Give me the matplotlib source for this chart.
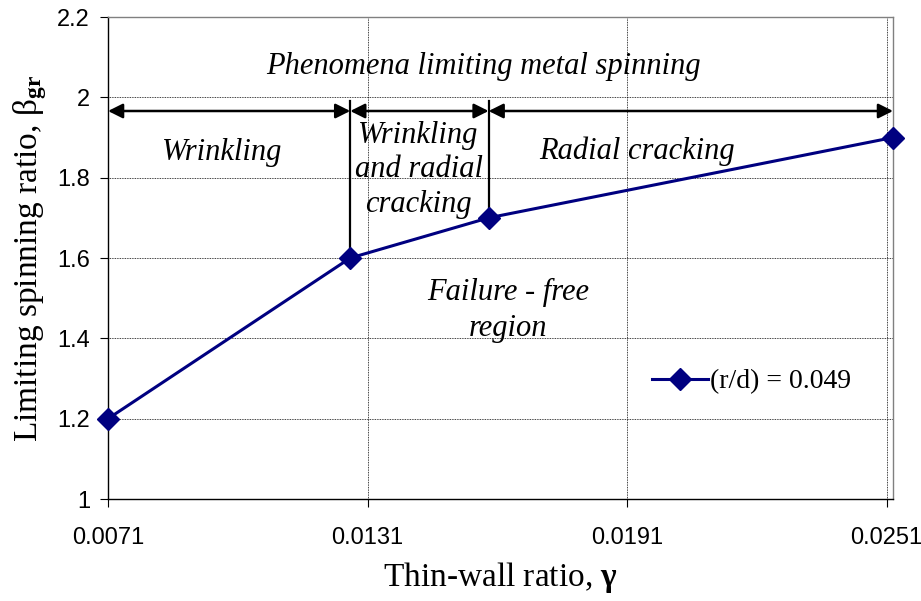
import matplotlib
matplotlib.use("Agg")
import matplotlib.pyplot as plt

plt.rcParams["mathtext.fontset"] = "custom"
plt.rcParams["mathtext.rm"] = "Liberation Serif"
plt.rcParams["mathtext.it"] = "Liberation Serif:italic"
plt.rcParams["mathtext.bf"] = "Liberation Serif:bold"

# data
gamma = [0.0071, 0.0127, 0.0159, 0.02525]
beta = [1.2, 1.6, 1.7, 1.9]
xticks = [0.0071, 0.0131, 0.0191, 0.0251]
xtick_labels = ["0.0071", "0.0131", "0.0191", "0.0251"]
yticks = [1.0, 1.2, 1.4, 1.6, 1.8, 2.0, 2.2]
ytick_labels = ["1", "1.2", "1.4", "1.6", "1.8", "2", "2.2"]
series_label = "(r/d) = 0.049"

serif = ["Liberation Serif", "DejaVu Serif"]
sans = ["Liberation Sans", "DejaVu Sans"]

fig = plt.figure(figsize=(9.21, 6.01), dpi=100)
ax = fig.add_axes([0.1173, 0.1697, 0.9696 - 0.1173, 0.9717 - 0.1697])

ax.plot(gamma, beta, color="#000080", lw=2.2, marker="D", markersize=11,
        markerfacecolor="#000080", markeredgecolor="#000080", clip_on=False,
        zorder=5, label=series_label)

ax.set_xlim(gamma[0], gamma[-1])
ax.set_ylim(1.0, 2.2)
ax.set_xticks(xticks)
ax.set_xticklabels(xtick_labels, fontfamily=sans, fontsize=17)
ax.set_yticks(yticks)
ax.set_yticklabels(ytick_labels, fontfamily=sans, fontsize=17)
ax.tick_params(direction="out", length=6, width=0.8, pad=7, color="black")
ax.tick_params(axis="x", pad=14)
ax.grid(True, color="black", linestyle=(0, (1, 1)), linewidth=0.6)
for s in ["left", "bottom"]:
    ax.spines[s].set_color("black")
    ax.spines[s].set_linewidth(1.0)
for s in ["top", "right"]:
    ax.spines[s].set_color("#808080")
    ax.spines[s].set_linewidth(1.0)

# region arrows
ya = 1.966
bounds = [gamma[0], gamma[1], gamma[2], gamma[3]]
for a, b in zip(bounds[:-1], bounds[1:]):
    ax.annotate("", xy=(b, ya), xytext=(a, ya),
                arrowprops=dict(arrowstyle="<|-|>", color="black", lw=1.8,
                                mutation_scale=22, shrinkA=0, shrinkB=0),
                annotation_clip=False)
for i in (1, 2):
    ax.plot([gamma[i], gamma[i]], [beta[i], 1.99], color="black", lw=1.6, zorder=4)

tkw = dict(fontfamily=serif, fontstyle="italic", fontsize=22, ha="center", va="center")
ax.text(0.01577, 2.078, "Phenomena limiting metal spinning", **tkw)
ax.text(0.00974, 1.862, "Wrinkling", **tkw)
ax.text(0.01428, 1.82, "Wrinkling\nand radial\ncracking", linespacing=1.25, **tkw)
ax.text(0.01932, 1.866, "Radial cracking", **tkw)
ax.text(0.01635, 1.47, "Failure - free\nregion", linespacing=1.3, **tkw)

leg = ax.legend(loc="center left", bbox_to_anchor=(0.693, 0.243), frameon=False,
                prop=dict(family=serif, size=20), handlelength=2.0,
                handletextpad=0.1, borderaxespad=0, borderpad=0)

ax.set_xlabel(r"Thin-wall ratio, $\mathbf{\gamma}$", fontfamily=serif, fontsize=24, labelpad=8)
ax.set_ylabel(r"Limiting spinning ratio, $\mathrm{\beta}_{\mathbf{gr}}$", fontfamily=serif, fontsize=24, labelpad=6)

fig.savefig("out.png", dpi=100)
